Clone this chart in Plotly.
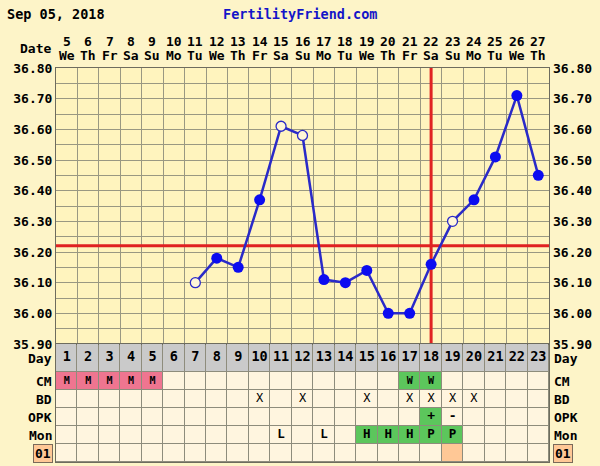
import plotly.graph_objects as go

# ---------------- data ----------------
dates = list(range(5, 28))
weekdays = ["We", "Th", "Fr", "Sa", "Su", "Mo", "Tu", "We", "Th", "Fr", "Sa", "Su",
            "Mo", "Tu", "We", "Th", "Fr", "Sa", "Su", "Mo", "Tu", "We", "Th"]
cycle_days = list(range(1, 24))
temps = [None, None, None, None, None, None,
         36.10, 36.18, 36.15, 36.37, 36.61, 36.58, 36.11, 36.10, 36.14,
         36.00, 36.00, 36.16, 36.30, 36.37, 36.51, 36.71, 36.45]
open_days = [7, 11, 12, 19]
coverline = 36.22
ovulation_day = 18
y_ticks = [35.90, 36.00, 36.10, 36.20, 36.30, 36.40, 36.50, 36.60, 36.70, 36.80]

cm = ["M", "M", "M", "M", "M", "", "", "", "", "", "", "", "", "", "", "", "W", "W", "", "", "", "", ""]
bd = ["", "", "", "", "", "", "", "", "", "X", "", "X", "", "", "X", "", "X", "X", "X", "X", "", "", ""]
opk = ["", "", "", "", "", "", "", "", "", "", "", "", "", "", "", "", "", "+", "-", "", "", "", ""]
mon = ["", "", "", "", "", "", "", "", "", "", "L", "", "L", "", "H", "H", "H", "P", "P", "", "", "", ""]
custom01 = [0] * 18 + [1] + [0] * 4
row_labels = ["Day", "CM", "BD", "OPK", "Mon"]
custom_label = "01"

# ---------------- styling ----------------
FONT = "DejaVu Sans Mono"
C_BG = "#FDF4C8"
C_PLOT = "#FFF4BE"
C_GRID = "#9A9882"
C_FRAME = "#6E6C5E"
C_CELL = "#FFF5DF"
C_GRAY = "#CACACA"
C_PINK = "#EF7590"
C_GREEN = "#5CC65C"
C_PEACH = "#FFC896"
C_BLUE = "#2A2AC8"
C_MARK = "#0C0CF0"
C_RED = "#E02222"

M_T, M_B, M_L, M_R = 68, 4, 56, 51
row_edges = [0, 18, 36, 54, 72, 90, 118]          # 01, Mon, OPK, BD, CM, Day (bottom-up)
row_centers = [(row_edges[i] + row_edges[i + 1]) / 2 for i in range(6)]
table_h = row_edges[-1]
plot_h = 466 - M_T - M_B
plot_w = 600 - M_L - M_R
tdom = table_h / plot_h


def py(pix):
    """pixel row (from top of figure) -> paper y"""
    return (466 - M_B - pix) / plot_h


def px(pix):
    return (pix - M_L) / plot_w


# cell colour codes: 0 cell, 1 gray, 2 pink, 3 green, 4 peach
def code_cm(v):
    return 2 if v == "M" else (3 if v == "W" else 0)


z = [
    [4 if c else 0 for c in custom01],
    [3 if v in ("H", "P") else 0 for v in mon],
    [3 if v == "+" else 0 for v in opk],
    [0 for _ in bd],
    [code_cm(v) for v in cm],
    [1 for _ in cycle_days],
]
colorscale = [[0, C_CELL], [0.25, C_GRAY], [0.5, C_PINK], [0.75, C_GREEN], [1, C_PEACH]]
x_edges = [d - 0.5 for d in cycle_days] + [cycle_days[-1] + 0.5]

fig = go.Figure()

fig.add_trace(go.Heatmap(
    z=z, x=x_edges, y=row_edges, xaxis="x2", yaxis="y2",
    colorscale=colorscale, zmin=0, zmax=4, showscale=False,
    xgap=1, ygap=1, hoverinfo="skip"))

# coverline and ovulation line
fig.add_trace(go.Scatter(x=[x_edges[0], x_edges[-1]], y=[coverline, coverline],
                         mode="lines", line=dict(color=C_RED, width=3),
                         hoverinfo="skip", showlegend=False))
fig.add_trace(go.Scatter(x=[ovulation_day, ovulation_day], y=[y_ticks[0], y_ticks[-1]],
                         mode="lines", line=dict(color=C_RED, width=3),
                         hoverinfo="skip", showlegend=False))

# temperature line
fig.add_trace(go.Scatter(x=cycle_days, y=temps, mode="lines",
                         line=dict(color=C_BLUE, width=2.5), connectgaps=False,
                         hoverinfo="skip", showlegend=False))
filled_x = [d for d, t in zip(cycle_days, temps) if t is not None and d not in open_days]
filled_y = [t for d, t in zip(cycle_days, temps) if t is not None and d not in open_days]
open_x = [d for d, t in zip(cycle_days, temps) if t is not None and d in open_days]
open_y = [t for d, t in zip(cycle_days, temps) if t is not None and d in open_days]
fig.add_trace(go.Scatter(x=filled_x, y=filled_y, mode="markers",
                         marker=dict(size=11, color=C_MARK, line=dict(width=0)),
                         showlegend=False))
fig.add_trace(go.Scatter(x=open_x, y=open_y, mode="markers",
                         marker=dict(size=10, color="#FFF6D8", line=dict(width=1.3, color=C_BLUE)),
                         showlegend=False))


# table text
def text_trace(vals, row_idx, size, weight="bold"):
    fig.add_trace(go.Scatter(
        x=cycle_days, y=[row_centers[row_idx]] * len(cycle_days), text=vals,
        mode="text", xaxis="x2", yaxis="y2", textposition="middle center",
        textfont=dict(family=FONT, size=size, color="black", weight=weight),
        hoverinfo="skip", showlegend=False))


text_trace([str(d) for d in cycle_days], 5, 13.5)
text_trace(cm, 4, 10)
text_trace(bd, 3, 12, "normal")
text_trace(opk, 2, 13)
text_trace(mon, 1, 12.5)

tick_font = dict(family=FONT, size=13, color="black", weight="bold")

fig.update_layout(
    width=600, height=466,
    margin=dict(l=M_L, r=M_R, t=M_T, b=M_B, autoexpand=False),
    paper_bgcolor=C_BG, plot_bgcolor=C_PLOT,
    showlegend=False,
    xaxis=dict(range=[x_edges[0], x_edges[-1]], anchor="y", side="top",
               showticklabels=False, ticks="", showgrid=False, automargin=False,
               minor=dict(tickmode="linear", tick0=0.5, dtick=1, showgrid=True,
                          gridcolor=C_GRID, gridwidth=1, ticks=""),
               showline=True, mirror=True, linecolor=C_FRAME, linewidth=1,
               zeroline=False),
    xaxis2=dict(range=[x_edges[0], x_edges[-1]], anchor="y2", matches="x",
                showticklabels=False, ticks="", showgrid=False, automargin=False,
                showline=True, mirror=True, linecolor=C_FRAME, linewidth=1,
                zeroline=False),
    yaxis=dict(domain=[tdom, 1], range=[y_ticks[0], y_ticks[-1]], automargin=False,
               tickmode="array", tickvals=y_ticks, ticktext=[f"{v:.2f}" for v in y_ticks],
               tickfont=tick_font, ticks="", showgrid=True, gridcolor=C_GRID, gridwidth=1,
               minor=dict(tickmode="linear", tick0=35.95, dtick=0.1, showgrid=True,
                          gridcolor=C_GRID, gridwidth=1, ticks=""),
               showline=True, mirror=True, linecolor=C_FRAME, linewidth=1,
               zeroline=False),
    yaxis2=dict(domain=[0, tdom], range=[0, table_h], showticklabels=False, ticks="",
                showgrid=False, zeroline=False, automargin=False,
                showline=True, mirror=True, linecolor=C_FRAME, linewidth=1),
    shapes=[dict(type="rect", xref="x2 domain", yref="y2 domain", x0=0, x1=1, y0=0, y1=1,
                 fillcolor="#8E8C7C", line=dict(width=0), layer="below")],
)

ann_font = dict(family=FONT, size=13, color="black", weight="bold")
anns = []
# right-hand temperature labels
for v in y_ticks:
    anns.append(dict(text=f"{v:.2f}", xref="paper", yref="y", x=1, y=v, xanchor="left",
                     yanchor="middle", xshift=2, showarrow=False, font=ann_font))
# date header
for d, w, cd in zip(dates, weekdays, cycle_days):
    anns.append(dict(text=str(d), xref="x", yref="paper", x=cd, y=py(41), xanchor="center",
                     yanchor="middle", showarrow=False, font=ann_font))
    anns.append(dict(text=w, xref="x", yref="paper", x=cd, y=py(56), xanchor="center",
                     yanchor="middle", showarrow=False, font=ann_font))
label_rows = [5, 4, 3, 2, 1]
for lab, r in zip(row_labels, label_rows):
    anns.append(dict(text=lab, xref="paper", yref="y2", x=0, y=row_centers[r],
                     xanchor="right", yanchor="middle", xshift=-2, showarrow=False, font=ann_font))
    anns.append(dict(text=lab, xref="paper", yref="y2", x=1, y=row_centers[r],
                     xanchor="left", yanchor="middle", xshift=3, showarrow=False, font=ann_font))
for xpos, xa, xs in [(0, "right", -3), (1, "left", 4)]:
    anns.append(dict(text=custom_label, xref="paper", yref="y2", x=xpos, y=row_centers[0],
                     xanchor=xa, yanchor="middle", xshift=xs, showarrow=False, font=ann_font,
                     bgcolor=C_PEACH, bordercolor="#7A6A5A", borderwidth=1, borderpad=1))
anns.append(dict(text="Date", xref="paper", yref="paper", x=0, y=py(48),
                 xanchor="right", yanchor="middle", xshift=-3, showarrow=False, font=ann_font))
anns.append(dict(text="Sep 05, 2018", xref="paper", yref="paper", x=px(5),
                 y=py(14), xanchor="left", yanchor="middle", showarrow=False,
                 font=dict(family=FONT, size=13.5, color="black", weight="bold")))
anns.append(dict(text="FertilityFriend.com", xref="paper", yref="paper", x=px(300),
                 y=py(14), xanchor="center", yanchor="middle", showarrow=False,
                 font=dict(family=FONT, size=13.5, color="#1414C8", weight="bold")))
fig.update_layout(annotations=anns)

fig.write_html("out.html", config={"displayModeBar": False},
               post_script="document.body.style.margin='0';document.body.style.background='%s';" % C_BG)
